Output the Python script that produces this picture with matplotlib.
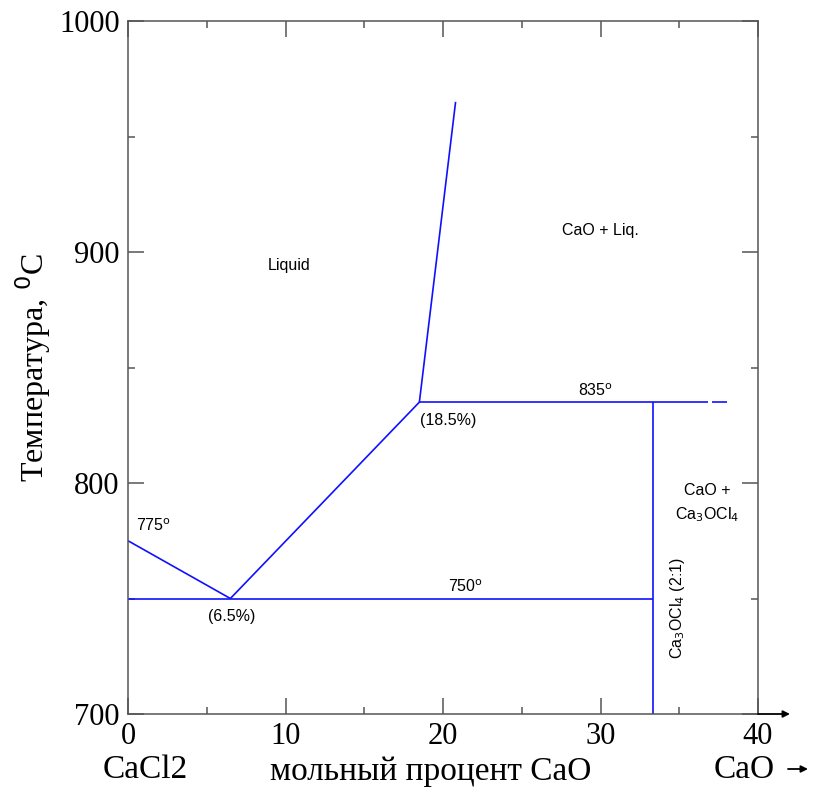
import numpy as np
import matplotlib
matplotlib.use('Agg')
import matplotlib.pyplot as plt
from matplotlib.ticker import MultipleLocator

# CaCl2 - CaO phase diagram (mol % CaO vs temperature, deg C)
liq_left_x = [0.0, 6.5]          # CaCl2 liquidus
liq_left_t = [775, 750]
liq_mid_x = [6.5, 18.5]          # Ca3OCl4 liquidus
liq_mid_t = [750, 835]
liq_right_x = [18.5, 20.8]       # CaO liquidus
liq_right_t = [835, 965]
eutectic_x = [0.0, 33.33]        # 750 deg eutectic line
eutectic_t = [750, 750]
peritectic_x = [18.5, 36.8]      # 835 deg peritectic line
peritectic_t = [835, 835]
peritectic_dash_x = [37.1, 38.0]
compound_x = [33.33, 33.33]      # Ca3OCl4 (2:1)
compound_t = [700, 835]

x_ticks = [0, 10, 20, 30, 40]
y_ticks = [700, 800, 900, 1000]

blue = '#1010ff'
spine_c = '#555555'
serif = 'Liberation Serif'
sans = 'Liberation Sans'

fig = plt.figure(figsize=(8.22, 7.92), dpi=100)
ax = fig.add_axes([128/822, 1-714/792, (758-128)/822, (714-21)/792])

lw = 1.2
for xs, ts in [(liq_left_x, liq_left_t), (liq_mid_x, liq_mid_t),
               (liq_right_x, liq_right_t), (eutectic_x, eutectic_t),
               (peritectic_x, peritectic_t), (peritectic_dash_x, peritectic_t),
               (compound_x, compound_t)]:
    ax.plot(xs, ts, color=blue, lw=lw, solid_capstyle='butt', clip_on=False)

ax.set_xlim(0, 40)
ax.set_ylim(700, 1000)
ax.set_xticks(x_ticks)
ax.set_yticks(y_ticks)
ax.xaxis.set_minor_locator(MultipleLocator(5))
ax.yaxis.set_minor_locator(MultipleLocator(50))
ax.tick_params(which='both', direction='in', top=True, right=True,
               color=spine_c, width=1.1)
ax.tick_params(which='major', length=11.5)
ax.tick_params(which='minor', length=5)
ax.tick_params(axis='both', which='major', labelsize=22, pad=6)
for lab in ax.get_xticklabels() + ax.get_yticklabels():
    lab.set_fontfamily(serif)
for s in ax.spines.values():
    s.set_color(spine_c)
    s.set_linewidth(1.1)

# region and point labels
fs = 11.5
ax.text(10.2, 894, 'Liquid', fontsize=fs, family=sans, ha='center', va='center')
ax.text(30.0, 909.5, 'CaO + Liq.', fontsize=fs, family=sans, ha='center', va='center')
ax.text(29.7, 836.5, r'835$^{\rm o}$', fontsize=fs, family=sans, ha='center', va='bottom')
ax.text(0.5, 778, r'775$^{\rm o}$', fontsize=fs, family=sans, ha='left', va='bottom')
ax.text(21.4, 751.5, r'750$^{\rm o}$', fontsize=fs, family=sans, ha='center', va='bottom')
ax.text(6.6, 742, '(6.5%)', fontsize=fs, family=sans, ha='center', va='center')
ax.text(20.3, 827, '(18.5%)', fontsize=fs, family=sans, ha='center', va='center')
ax.text(36.8, 791, 'CaO +\nCa$_3$OCl$_4$', fontsize=fs, family=sans,
        ha='center', va='center', linespacing=1.5)
ax.text(34.9, 746, r'Ca$_3$OCl$_4$ (2:1)', fontsize=fs, family=sans,
        ha='center', va='center', rotation=90)

ax.set_ylabel(r'Температура, $^0$C', fontsize=23, family=serif, labelpad=4)
fig.text(431/822, 1-772/792, 'мольный процент CaO', fontsize=24, family=serif,
         ha='center', va='center')
fig.text(145/822, 1-770/792, 'CaCl2', fontsize=24, family=serif,
         ha='center', va='center')
fig.text(744/822, 1-770/792, 'CaO', fontsize=24, family=serif,
         ha='center', va='center')

# arrows: end of the x axis and after the "CaO" label
arrow = dict(arrowstyle='-|>', color='black', lw=1.3, mutation_scale=10,
             shrinkA=0, shrinkB=0)
ax.annotate('', xy=(790/822, 1-714/792), xytext=(758/822, 1-714/792),
            xycoords='figure fraction', textcoords='figure fraction',
            arrowprops=arrow, annotation_clip=False)
ax.annotate('', xy=(808/822, 1-769/792), xytext=(788/822, 1-769/792),
            xycoords='figure fraction', textcoords='figure fraction',
            arrowprops=arrow, annotation_clip=False)

fig.savefig('out.png', dpi=100)
